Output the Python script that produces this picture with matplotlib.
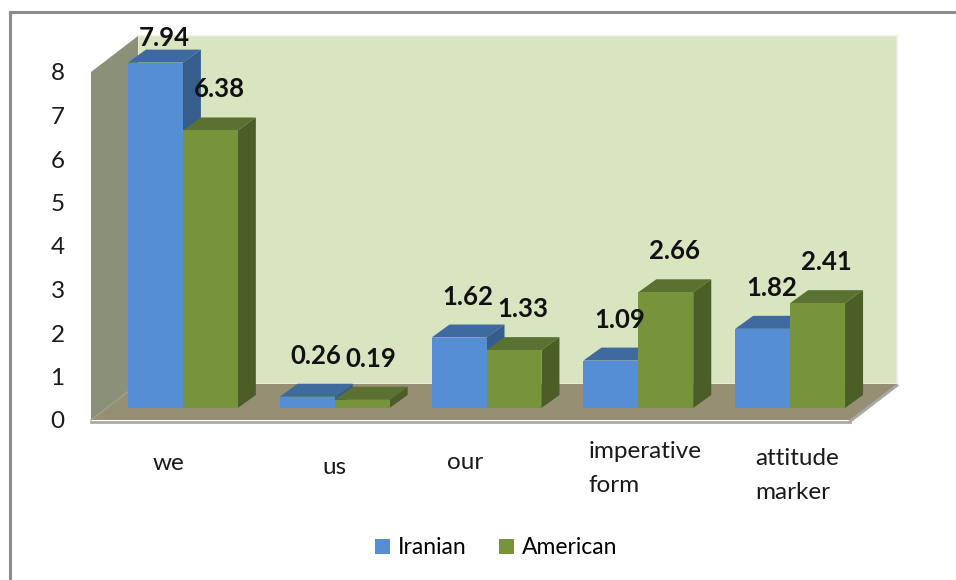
import matplotlib
matplotlib.use('Agg')
import matplotlib.pyplot as plt
from matplotlib.patches import Polygon, Patch
from matplotlib.transforms import Affine2D, IdentityTransform
from matplotlib.lines import Line2D
import numpy as np

# ---------------- data ----------------
categories = ['we', 'us', 'our', 'imperative\nform', 'attitude\nmarker']
iranian = [7.94, 0.26, 1.62, 1.09, 1.82]
american = [6.38, 0.19, 1.33, 2.66, 2.41]
series_names = ['Iranian', 'American']
yticks = [0, 1, 2, 3, 4, 5, 6, 7, 8]

# ---------------- style / layout ----------------
FONT = 'Lato'
W, H = 956, 580
front_colors = ['#558ED5', '#77933C']
top_colors = ['#3E6AA0', '#5A7131']
side_colors = ['#365D8C', '#4B5E27']
wall_back = '#D9E4C0'
wall_left = '#8A9178'
floor_col = '#978F74'

# front plane in pixels (from top-left)
PL, PR, PB, PT = 91, 850, 420, 72
DEPTH = np.array([47.0, 36.0])       # full depth offset (display px)
BAR_FRONT = np.array([16.0, 12.0])   # bar front face offset
BAR_BACK = np.array([34.0, 25.0])    # bar back face offset
BAR_W = 0.362                        # bar width in category units

# category label layout (pixel offsets relative to category centre / left aligned)
label_dx = [-14, 4, -24, -34, -19]
label_y = [453, 457, 452, 441, 448]

fig = plt.figure(figsize=(W / 100, H / 100), dpi=100)
ax = fig.add_axes([PL / W, 1 - PB / H, (PR - PL) / W, (PB - PT) / H])
ax.set_xlim(0, len(categories))
ax.set_ylim(0, 8)
for s in ax.spines.values():
    s.set_visible(False)
ax.set_xticks([])
ax.set_yticks(yticks)
ax.set_yticklabels([str(t) for t in yticks], fontsize=17.5, family=FONT, color='#1a1a1a')
ax.tick_params(axis='y', length=0, pad=19)
ax.patch.set_visible(False)

ID = IdentityTransform()


def disp(x, y):
    return ax.transData.transform((x, y))


def poly(pts, color, z, ec='none', lw=0):
    p = Polygon(pts, closed=True, facecolor=color, edgecolor=ec, linewidth=lw,
                transform=ID, zorder=z, clip_on=False)
    ax.add_patch(p)


fig.canvas.draw()
n = len(categories)
x0d = disp(0, 0)
x1d = disp(n, 0)
topl = disp(0, 8)
topr = disp(n, 8)

# back wall
poly([x0d + DEPTH, x1d + DEPTH, topr + DEPTH, topl + DEPTH], wall_back, 0.5,
     ec='#EAF0DE', lw=1.2)
# left wall
poly([x0d, topl, topl + DEPTH, x0d + DEPTH], wall_left, 0.6)
# floor
poly([x0d, x1d, x1d + DEPTH, x0d + DEPTH], floor_col, 0.7)
ax.add_line(Line2D([x0d[0], x1d[0]], [x0d[1] - 1.5, x1d[1] - 1.5], color='#A9A9A9',
                   lw=2, transform=ID, zorder=0.8, clip_on=False))
ax.add_line(Line2D([x1d[0], x1d[0] + DEPTH[0]], [x1d[1] - 1.5, x1d[1] + DEPTH[1] - 1.5],
                   color='#A9A9A9', lw=2, transform=ID, zorder=0.65, clip_on=False))
ax.add_line(Line2D([x0d[0], x0d[0] + DEPTH[0]], [x0d[1], x0d[1] + DEPTH[1]],
                   color='#9BA08C', lw=1, transform=ID, zorder=0.75, clip_on=False))

front_T = ax.transData + Affine2D().translate(*BAR_FRONT)
idx = np.arange(n)
series = [iranian, american]
for s, vals in enumerate(series):
    xs = idx + 0.5 + (s - 0.5) * BAR_W
    ax.bar(xs, vals, width=BAR_W, color=front_colors[s], transform=front_T,
           zorder=2 + s * 0.1, linewidth=0, clip_on=False)

for g in range(n):
    for s, vals in enumerate(series):
        v = vals[g]
        xl = g + 0.5 + (s - 1) * BAR_W
        xr = xl + BAR_W
        fl = disp(xl, v) + BAR_FRONT
        fr = disp(xr, v) + BAR_FRONT
        br0 = disp(xr, 0) + BAR_FRONT
        z = 1.9 + s * 0.1
        # top face
        poly([fl, fr, fr + (BAR_BACK - BAR_FRONT), fl + (BAR_BACK - BAR_FRONT)], top_colors[s], z)
        # side face
        poly([br0, fr, fr + (BAR_BACK - BAR_FRONT), br0 + (BAR_BACK - BAR_FRONT)], side_colors[s], z)
        # data label
        cx = (fl[0] + fr[0]) / 2 + (BAR_BACK[0] - BAR_FRONT[0]) / 2
        ty = fl[1] + (BAR_BACK[1] - BAR_FRONT[1]) + 28
        ty = min(ty, H - 38)
        ax.text(cx, ty, f'{v:.2f}', transform=ID, ha='center', va='center',
                fontsize=18.5, fontweight='bold', family=FONT, color='#111111', zorder=5,
                clip_on=False)

# category labels
for g, lab in enumerate(categories):
    cx = disp(g + 0.5, 0)[0] + label_dx[g]
    ax.text(cx, H - label_y[g], lab, transform=ID, ha='left', va='top',
            fontsize=17.5, family=FONT, color='#1a1a1a', linespacing=1.75,
            multialignment='left', clip_on=False)

# legend
handles = [Patch(facecolor=front_colors[i], edgecolor='none', label=series_names[i])
           for i in range(2)]
leg = fig.legend(handles=handles, loc='center', bbox_to_anchor=(496 / W, 1 - 548 / H),
                 ncol=2, frameon=False, prop={'family': FONT, 'size': 16.5},
                 handlelength=0.65, handleheight=0.65, handletextpad=0.35,
                 columnspacing=1.4)

# outer frame (top and left visible)
fig.add_artist(Line2D([10 / W, 1], [1 - 12 / H, 1 - 12 / H], color='#8C8C8C', lw=2.2,
                      transform=fig.transFigure))
fig.add_artist(Line2D([10 / W, 10 / W], [0, 1 - 12 / H], color='#8C8C8C', lw=2.2,
                      transform=fig.transFigure))

fig.savefig('out.png', dpi=100)
